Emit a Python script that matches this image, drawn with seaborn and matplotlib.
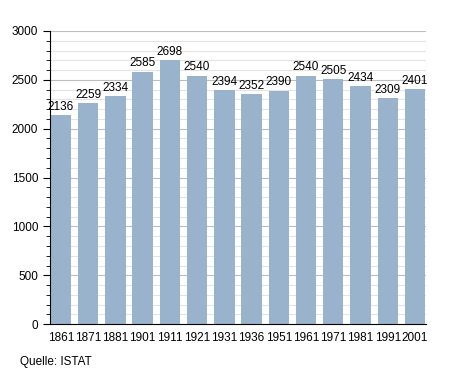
import matplotlib
matplotlib.use("Agg")
import matplotlib.pyplot as plt
import seaborn as sns
import pandas as pd
from matplotlib.ticker import MultipleLocator

# Einwohnerentwicklung
years = ['1861', '1871', '1881', '1901', '1911', '1921', '1931', '1936',
         '1951', '1961', '1971', '1981', '1991', '2001']
population = [2136, 2259, 2334, 2585, 2698, 2540, 2394, 2352,
              2390, 2540, 2505, 2434, 2309, 2401]

df = pd.DataFrame({'year': years, 'pop': population})

sns.set_style("white")
plt.rcParams['font.family'] = ['Liberation Sans', 'DejaVu Sans']
plt.rcParams['text.color'] = 'black'
plt.rcParams['xtick.color'] = 'black'
plt.rcParams['ytick.color'] = 'black'

fig = plt.figure(figsize=(4.55, 3.73), dpi=100)
ax = fig.add_axes([0.110, 0.131, 0.826, 0.786])

sns.barplot(data=df, x='year', y='pop', color='#9ab3cd', saturation=1,
            width=0.75, edgecolor='none', ax=ax, zorder=2)

# grid: minor every 100, major every 500
ax.set_ylim(0, 3000)
ax.yaxis.set_major_locator(MultipleLocator(500))
ax.yaxis.set_minor_locator(MultipleLocator(100))
ax.grid(axis='y', which='minor', color='#e4e4e4', linewidth=0.8, zorder=0)
ax.grid(axis='y', which='major', color='#bdbdbd', linewidth=0.8, zorder=0)
ax.set_axisbelow(True)
ax.set_xlim(-0.4, 13.4)

for i, v in enumerate(population):
    ax.text(i, v + 25, str(v), ha='center', va='bottom', fontsize=8.5, color='black')

for s in ['top', 'right']:
    ax.spines[s].set_visible(False)
ax.spines['left'].set_color('black')
ax.spines['bottom'].set_color('black')
ax.tick_params(axis='y', which='major', left=True, length=5, width=0.8,
               labelsize=8.5, colors='black')
ax.tick_params(axis='y', which='minor', left=True, length=3, width=0.6, colors='black')
ax.tick_params(axis='x', bottom=False, labelsize=8.5, pad=2, colors='black')
ax.set_xlabel('')
ax.set_ylabel('')

fig.text(0.044, 0.022, 'Quelle: ISTAT', fontsize=8.5, color='black')

fig.savefig('out.png', dpi=100)
